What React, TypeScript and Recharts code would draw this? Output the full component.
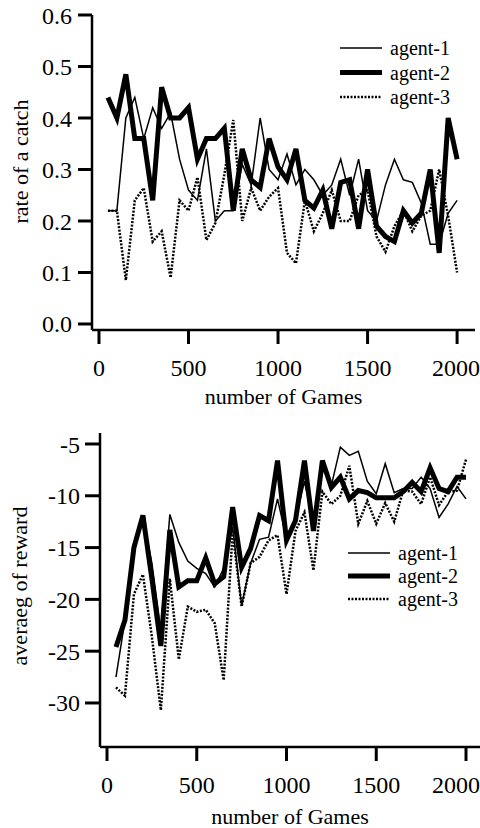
import { LineChart, Line, XAxis, YAxis, Legend, Label } from "recharts"

const games = [
  50, 100, 150, 200, 250, 300, 350, 400, 450, 500,
  550, 600, 650, 700, 750, 800, 850, 900, 950, 1000,
  1050, 1100, 1150, 1200, 1250, 1300, 1350, 1400, 1450, 1500,
  1550, 1600, 1650, 1700, 1750, 1800, 1850, 1900, 1950, 2000,
]

// rate of a catch
const catch1 = [
  0.22, 0.22, 0.4, 0.44, 0.36, 0.42, 0.38, 0.41, 0.32, 0.26,
  0.24, 0.34, 0.2, 0.22, 0.22, 0.31, 0.27, 0.4, 0.3, 0.28,
  0.33, 0.27, 0.3, 0.28, 0.25, 0.27, 0.32, 0.25, 0.32, 0.22,
  0.2, 0.27, 0.32, 0.28, 0.275, 0.235, 0.155, 0.155, 0.215, 0.24,
]
const catch2 = [
  0.44, 0.4, 0.485, 0.36, 0.36, 0.24, 0.46, 0.4, 0.4, 0.42,
  0.32, 0.36, 0.36, 0.38, 0.22, 0.34, 0.28, 0.265, 0.36, 0.305,
  0.28, 0.34, 0.24, 0.225, 0.26, 0.185, 0.275, 0.28, 0.185, 0.3,
  0.19, 0.17, 0.16, 0.22, 0.196, 0.215, 0.3, 0.138, 0.4, 0.32,
]
const catch3 = [
  0.22, 0.22, 0.085, 0.24, 0.264, 0.16, 0.18, 0.09, 0.24, 0.22,
  0.285, 0.163, 0.196, 0.29, 0.396, 0.2, 0.264, 0.22, 0.247, 0.264,
  0.138, 0.118, 0.24, 0.18, 0.215, 0.26, 0.2, 0.2, 0.25, 0.26,
  0.17, 0.14, 0.19, 0.22, 0.18, 0.21, 0.22, 0.3, 0.21, 0.1,
]

// averaeg of reward
const reward1 = [
  -27.5, -22, -15.5, -12, -16.5, -23, -11.8, -14.5, -16.3, -17,
  -17.5, -18.8, -17, -13, -20.6, -16.5, -14.2, -14, -10.3, -14.2,
  -12.4, -8.6, -12.8, -7.3, -9, -5.3, -6.1, -5.7, -8.6, -9.8,
  -6.9, -9.7, -9.3, -9.3, -8.2, -9.3, -12.1, -10.8, -9.1, -10.3,
]
const reward2 = [
  -24.6, -22, -15, -11.9, -18, -24.5, -13.3, -18.8, -18.2, -18.2,
  -16, -18.5, -17.8, -11.1, -16.9, -15.1, -11.9, -12.4, -6.6, -14.3,
  -12.4, -6.6, -13.4, -6.6, -9.2, -8.2, -10.3, -9.5, -9.7, -10.2,
  -10.2, -10.2, -9.6, -8.7, -9.6, -7.3, -9.3, -9.6, -8.2, -8.2,
]
const reward3 = [
  -28.5, -29.3, -19.5, -17.6, -23.6, -30.7, -18, -25.8, -20.7, -21.2,
  -21, -22.3, -27.8, -13.5, -20.7, -16.5, -15.9, -14.3, -13.8, -19.5,
  -13.4, -11.6, -17.2, -9.6, -10.8, -10, -7.1, -12.7, -10.5, -12.7,
  -10.7, -12.5, -9.5, -9.6, -10.8, -8.2, -10.9, -9.6, -9.5, -6.5,
]

const xTicks = [0, 500, 1000, 1500, 2000]
const catchTicks = [0, 0.1, 0.2, 0.3, 0.4, 0.5, 0.6]
const rewardTicks = [-30, -25, -20, -15, -10, -5]
const agents = ["agent-1", "agent-2", "agent-3"]

const catchData = games.map((g, i) => ({ games: g, a1: catch1[i], a2: catch2[i], a3: catch3[i] }))
const rewardData = games.map((g, i) => ({ games: g, a1: reward1[i], a2: reward2[i], a3: reward3[i] }))

const FONT = '"Liberation Serif", "Times New Roman", serif'
const tickStyle = { fontFamily: FONT, fontSize: 24, fill: "#000" }
const titleStyle = { fontFamily: FONT, fontSize: 22, fill: "#000" }
const axisLine = { stroke: "#000", strokeWidth: 2.5 }
const tickLine = { stroke: "#000", strokeWidth: 3 }

const lineStyles = [
  { width: 1.5, dash: undefined },
  { width: 5, dash: undefined },
  { width: 2.5, dash: "2 1.5" },
]

function AgentLegend({ gap }: { gap: number }) {
  return (
    <svg width={140} height={84} style={{ overflow: "visible" }}>
      {agents.map((name, i) => (
        <g key={name}>
          <line
            x1={0}
            x2={42}
            y1={14 + i * gap}
            y2={14 + i * gap}
            stroke="#000"
            strokeWidth={lineStyles[i].width}
            strokeDasharray={lineStyles[i].dash}
          />
          <text x={50} y={14 + i * gap} dy="0.35em" fontFamily={FONT} fontSize={20} fill="#000">
            {name}
          </text>
        </g>
      ))}
    </svg>
  )
}

function YTitle({ text, x, dy }: { text: string; x: number; dy: number }) {
  return (props: any) => {
    const vb = props.viewBox || {}
    const cy = (vb.y || 0) + (vb.height || 0) / 2 + dy
    return (
      <text
        x={x}
        y={cy}
        transform={`rotate(-90 ${x} ${cy})`}
        textAnchor="middle"
        dominantBaseline="central"
        {...titleStyle}
      >
        {text}
      </text>
    )
  }
}

function Series() {
  return [
    <Line key="a1" dataKey="a1" stroke="#000" strokeWidth={1.5} dot={false} isAnimationActive={false} />,
    <Line key="a2" dataKey="a2" stroke="#000" strokeWidth={5} dot={false} isAnimationActive={false} />,
    <Line key="a3" dataKey="a3" stroke="#000" strokeWidth={2.5} strokeDasharray="2 1.5" dot={false} isAnimationActive={false} />,
  ]
}

export default function App() {
  return (
    <div style={{ position: "absolute", top: 0, left: 0, width: 480, height: 828, background: "#fff" }}>
      <div style={{ position: "absolute", top: 0, left: 0 }}>
        <LineChart width={480} height={420} data={catchData} margin={{ top: 15, right: 5, bottom: 0, left: 0 }}>
          <XAxis
            dataKey="games"
            type="number"
            domain={[-39, 2100]}
            ticks={xTicks}
            allowDataOverflow
            height={90}
            axisLine={axisLine}
            tickLine={tickLine}
            tickSize={14}
            tickMargin={15}
            tick={tickStyle}
          >
            <Label value="number of Games" position="insideBottom" offset={16} style={titleStyle} />
          </XAxis>
          <YAxis
            type="number"
            domain={[-0.0117, 0.6]}
            ticks={catchTicks}
            allowDataOverflow
            width={92}
            axisLine={axisLine}
            tickLine={tickLine}
            tickSize={14}
            tickMargin={6}
            tick={tickStyle}
            tickFormatter={(v: number) => v.toFixed(1)}
          >
            <Label content={YTitle({ text: "rate of a catch", x: 20, dy: -11 })} />
          </YAxis>
          <Legend
            layout="horizontal"
            verticalAlign="middle"
            align="center"
            content={() => <AgentLegend gap={24.5} />}
            wrapperStyle={{ position: "absolute", top: 34, left: 340, width: 140 }}
          />
          {Series()}
        </LineChart>
      </div>
      <div style={{ position: "absolute", top: 423, left: 0 }}>
        <LineChart width={480} height={405} data={rewardData} margin={{ top: 10, right: 0, bottom: 0, left: 0 }}>
          <XAxis
            dataKey="games"
            type="number"
            domain={[-39, 2078]}
            ticks={xTicks}
            allowDataOverflow
            height={81}
            axisLine={axisLine}
            tickLine={tickLine}
            tickSize={14}
            tickMargin={15}
            tick={tickStyle}
          >
            <Label value="number of Games" position="insideBottom" offset={4} style={titleStyle} />
          </XAxis>
          <YAxis
            type="number"
            domain={[-34.25, -3.94]}
            ticks={rewardTicks}
            allowDataOverflow
            width={100}
            axisLine={axisLine}
            tickLine={tickLine}
            tickSize={15}
            tickMargin={5}
            tick={tickStyle}
          >
            <Label content={YTitle({ text: "averaeg of reward", x: 19, dy: -4 })} />
          </YAxis>
          <Legend
            layout="horizontal"
            verticalAlign="middle"
            align="center"
            content={() => <AgentLegend gap={23} />}
            wrapperStyle={{ position: "absolute", top: 116, left: 348, width: 132 }}
          />
          {Series()}
        </LineChart>
      </div>
    </div>
  )
}
